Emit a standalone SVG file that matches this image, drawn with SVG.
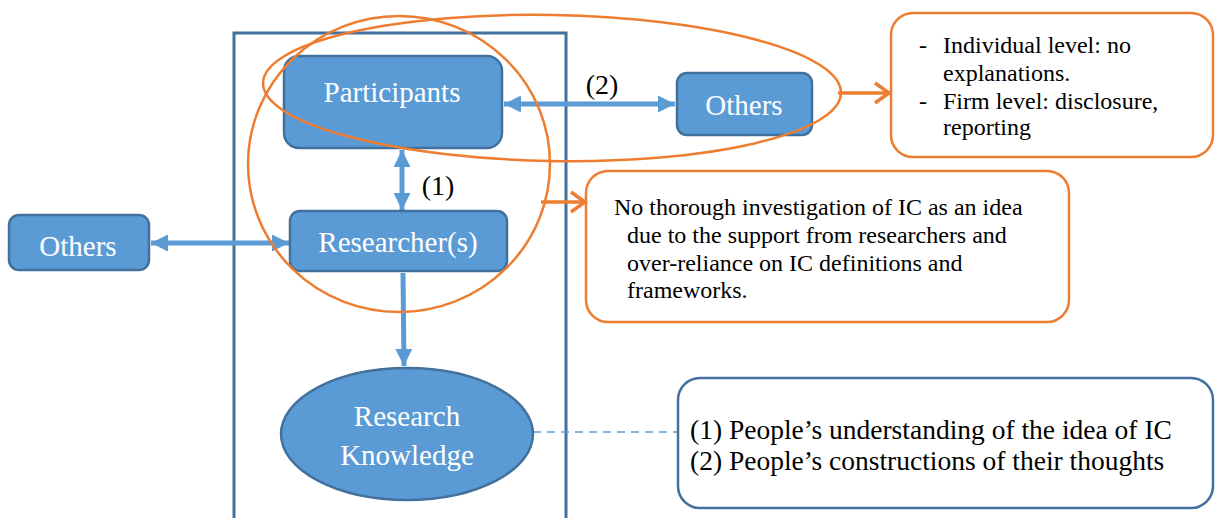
<svg xmlns="http://www.w3.org/2000/svg" width="1215" height="518" viewBox="0 0 1215 518">
<defs>
<style>
.node{fill:#5b9bd5;stroke:#41719c;stroke-width:2.5}
.lbl{font-family:"Liberation Serif","Times New Roman",serif;fill:#fff;font-size:29px;text-anchor:middle}
.txt{font-family:"Liberation Serif","Times New Roman",serif;fill:#000;font-size:24px}
.conn{stroke:#5b9bd5;stroke-width:5;fill:none}
.orange{stroke:#ed7d31;stroke-width:2.5;fill:none}
.oarrow{stroke:#ed7d31;stroke-width:3.5;fill:none}
</style>
<marker id="ah" viewBox="0 0 10 10" refX="10" refY="5" markerWidth="3.4" markerHeight="3.4" orient="auto-start-reverse" markerUnits="strokeWidth">
<path d="M0,0 L10,5 L0,10 z" fill="#5b9bd5"/>
</marker>
<marker id="oh" viewBox="0 0 24 24" refX="20" refY="12" markerWidth="24" markerHeight="24" orient="auto" markerUnits="userSpaceOnUse">
<path d="M6,2 L20,12 L6,22" fill="none" stroke="#ed7d31" stroke-width="3.5"/>
</marker>
</defs>
<rect width="1215" height="518" fill="#fff"/>
<g id="container">
<rect x="234" y="33" width="332" height="500" fill="none" stroke="#41719c" stroke-width="3"/>
</g>
<g id="connectors">
<line class="conn" x1="504" y1="104" x2="675" y2="104" marker-start="url(#ah)" marker-end="url(#ah)"/>
<line class="conn" x1="402" y1="150" x2="402" y2="210" marker-start="url(#ah)" marker-end="url(#ah)"/>
<line class="conn" x1="151" y1="243" x2="289" y2="243" marker-start="url(#ah)" marker-end="url(#ah)"/>
<line class="conn" x1="403" y1="273" x2="404" y2="366" marker-end="url(#ah)"/>
<line x1="533" y1="432" x2="678" y2="432" stroke="#5b9bd5" stroke-width="1.5" stroke-dasharray="8,6"/>
<line class="oarrow" x1="838" y1="93" x2="889" y2="93" marker-end="url(#oh)"/>
<line class="oarrow" x1="541" y1="202" x2="585" y2="202" marker-end="url(#oh)"/>
</g>
<g id="participants">
<rect class="node" x="284" y="56" width="218" height="92" rx="15"/>
<text class="lbl" x="392" y="102">Participants</text>
</g>
<g id="others-top">
<rect class="node" x="677" y="73" width="135" height="62" rx="10"/>
<text class="lbl" x="744" y="115">Others</text>
</g>
<g id="researchers">
<rect class="node" x="290" y="211" width="217" height="60" rx="10"/>
<text class="lbl" x="398" y="252">Researcher(s)</text>
</g>
<g id="others-left">
<rect class="node" x="9" y="215" width="140" height="55" rx="10"/>
<text class="lbl" x="78" y="256">Others</text>
</g>
<g id="research-knowledge">
<ellipse class="node" cx="407" cy="434" rx="126" ry="66"/>
<text class="lbl" x="407" y="426">Research</text>
<text class="lbl" x="407" y="465">Knowledge</text>
</g>
<g id="labels">
<text class="txt" x="438" y="195" style="font-size:28px" text-anchor="middle">(1)</text>
<text class="txt" x="602" y="94" style="font-size:28px" text-anchor="middle">(2)</text>
</g>
<g id="highlight-ellipses">
<ellipse class="orange" cx="552" cy="88" rx="289" ry="73" transform="rotate(1 552 88)"/>
<ellipse class="orange" cx="399" cy="164" rx="151" ry="148"/>
</g>
<g id="note-top">
<rect class="orange" x="891" y="13" width="322" height="144" rx="22"/>
<text class="txt" x="919" y="53">-</text>
<text class="txt" x="943" y="53">Individual level: no</text>
<text class="txt" x="943" y="81">explanations.</text>
<text class="txt" x="919" y="109">-</text>
<text class="txt" x="943" y="109">Firm level: disclosure,</text>
<text class="txt" x="943" y="135">reporting</text>
</g>
<g id="note-middle">
<rect class="orange" x="586" y="171" width="483" height="151" rx="22"/>
<text class="txt" x="614" y="215">No thorough investigation of IC as an idea</text>
<text class="txt" x="627" y="243">due to the support from researchers and</text>
<text class="txt" x="627" y="271">over-reliance on IC definitions and</text>
<text class="txt" x="627" y="298">frameworks.</text>
</g>
<g id="note-bottom">
<rect x="678" y="378" width="535" height="130" rx="22" fill="none" stroke="#41719c" stroke-width="2.5"/>
<text class="txt" x="690" y="439" style="font-size:27.5px">(1) People’s understanding of the idea of IC</text>
<text class="txt" x="690" y="470" style="font-size:27.5px">(2) People’s constructions of their thoughts</text>
</g>
</svg>
